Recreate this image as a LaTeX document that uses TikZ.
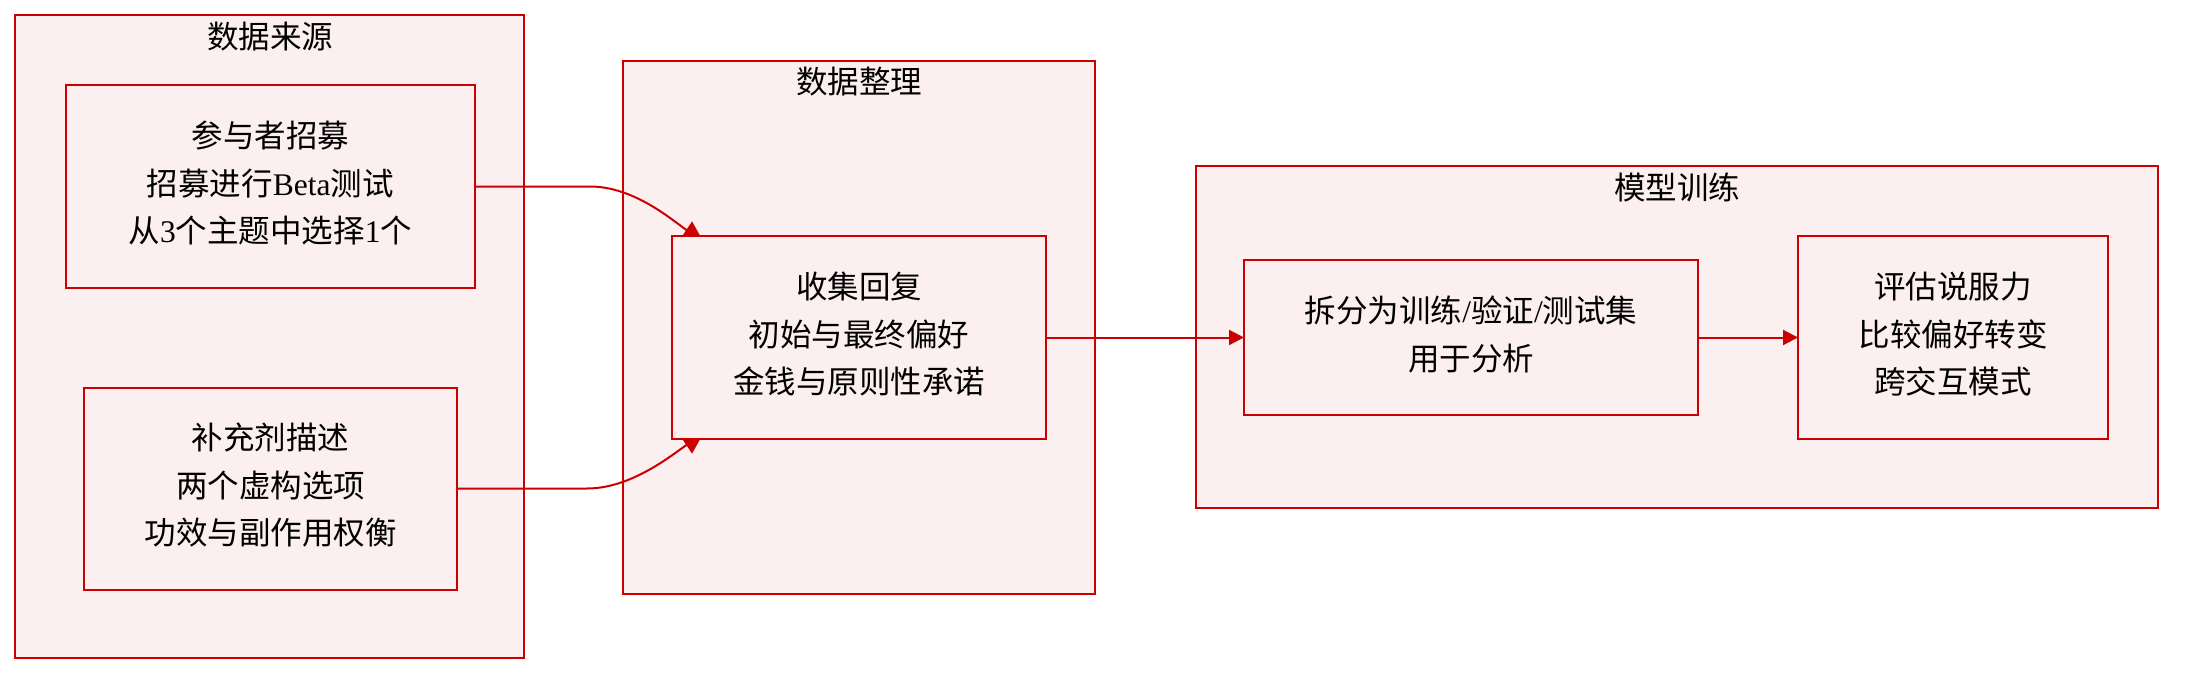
\documentclass[tikz,border=0pt]{standalone}
\usepackage{fontspec}
\setmainfont{Noto Sans CJK SC}
\newfontfamily\lat{Liberation Serif}
\usetikzlibrary{arrows.meta}
\definecolor{boxred}{RGB}{204,0,0}
\definecolor{boxfill}{RGB}{252,239,240}
\tikzset{
  grp/.style={draw=boxred, fill=boxfill, line width=2pt, inner sep=0pt, outer sep=0pt},
  card/.style={draw=boxred, fill=boxfill, line width=2pt, inner sep=0pt, outer sep=0pt, align=center,
    text depth=9pt, font=\fontsize{31.5}{47.5}\selectfont},
  ttl/.style={inner sep=0pt, font=\fontsize{31.5}{47.5}\selectfont},
  conn/.style={draw=boxred, line width=2pt, -{Triangle[length=15pt,width=15pt]}},
  curveconn/.style={draw=boxred, line width=2pt, -{Triangle[length=20pt,width=20pt]}}
}
\begin{document}
\begin{tikzpicture}[x=1pt,y=-1pt]
\useasboundingbox (0,0) rectangle (2190,680);
% groups
\node[grp, minimum width=509pt, minimum height=643pt] (g1) at (269.5,336.5) {};
\node[grp, minimum width=472pt, minimum height=533pt] (g2) at (859,327.5) {};
\node[grp, minimum width=962pt, minimum height=342pt] (g3) at (1677,337) {};
\node[ttl] (t1) at (270,36.5) {数据来源};
\node[ttl] (t2) at (859,82) {数据整理};
\node[ttl] (t3) at (1677,187) {模型训练};
% card positions (shapes drawn below after the curved connectors)
\coordinate (Cnw) at (672,236);
\coordinate (Csw) at (672,439);
% cards A and B
\node[card, minimum width=409pt, minimum height=203pt] (A) at (270.3,186.5)
  {参与者招募\\招募进行{\lat Beta}测试\\从{\lat 3}个主题中选择{\lat 1}个};
\node[card, minimum width=373pt, minimum height=202pt] (B) at (270.5,488.5)
  {补充剂描述\\两个虚构选项\\功效与副作用权衡};
% curved connectors (their tips are partly covered by card C)
\draw[curveconn] (A.east) -- ++(115,0) .. controls +(45,0) and +(-30,-20) .. ([xshift=31pt,yshift=-5pt]Cnw);
\draw[curveconn] (B.east) -- ++(130,0) .. controls +(45,0) and +(-30,20) .. ([xshift=31pt,yshift=5pt]Csw);
% remaining cards
\node[card, minimum width=374pt, minimum height=203pt] (C) at (859,337.5)
  {收集回复\\初始与最终偏好\\金钱与原则性承诺};
\node[card, minimum width=454pt, minimum height=155pt] (D) at (1471,337.5)
  {拆分为训练{\lat /}验证{\lat /}测试集\\用于分析};
\node[card, minimum width=310pt, minimum height=203pt] (E) at (1953,337.5)
  {评估说服力\\比较偏好转变\\跨交互模式};
% straight connectors
\draw[conn] (C.east) -- (D.west);
\draw[conn] (D.east) -- (E.west);
\end{tikzpicture}
\end{document}
